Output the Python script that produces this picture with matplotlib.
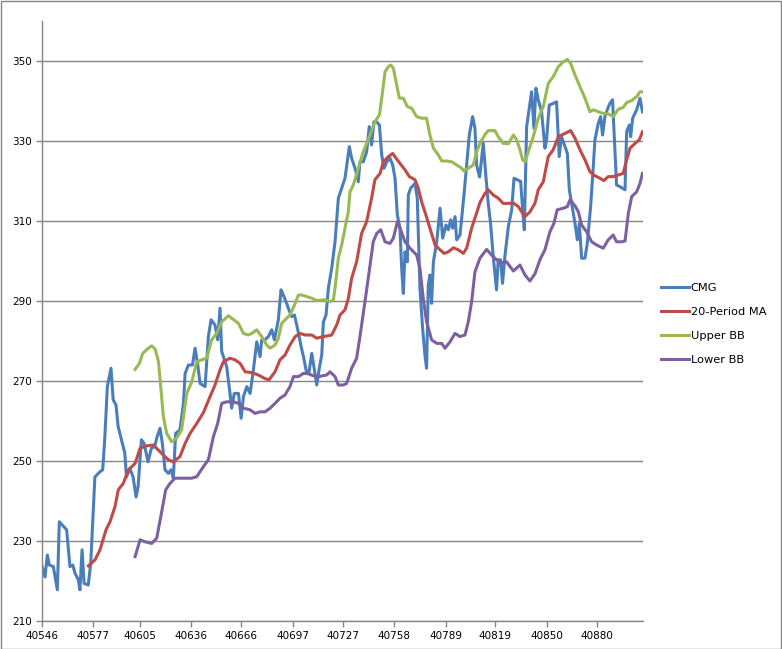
import matplotlib.pyplot as plt
from matplotlib.patches import Rectangle

# excel date serials, with prices
cmg_x = [40546, 40548, 40549.4, 40550.6, 40553, 40555.4, 40556.6, 40561, 40563, 40564.7,
         40566, 40568, 40569, 40570.3, 40571.5, 40574, 40575.5, 40578, 40581, 40582.7,
         40584, 40585.5, 40587.7, 40589, 40590.7, 40592, 40596, 40597, 40599, 40601,
         40602.8, 40604, 40606, 40607.6, 40610, 40612, 40614, 40615.2, 40617.2, 40618.6,
         40620.2, 40622.2, 40623.8, 40625.2, 40626.6, 40629.2, 40631.3, 40632.3, 40634.3, 40636.7,
         40638.3, 40639.9, 40641.3, 40644.3, 40646.3, 40647.9, 40650.3, 40651.9, 40653.3, 40654.3,
         40657.3, 40659.3, 40660.3, 40661.9, 40664.4, 40666, 40667.4, 40669.4, 40671.4, 40673.4,
         40675.4, 40677.4, 40678.4, 40680.4, 40682.4, 40684.4, 40686, 40688.4, 40690, 40691.4,
         40693.4, 40694.4, 40696.4, 40698.1, 40700.1, 40702.1, 40703.5, 40705.5, 40706.9, 40708.5,
         40710.1, 40711.5, 40712.9, 40714.5, 40715.5, 40717.1, 40718.5, 40720.5, 40722.5, 40724.5,
         40726.5, 40728.5, 40731.1, 40732.5, 40734.5, 40736.5, 40737.5, 40739.5, 40741.5, 40743.1,
         40744.5, 40745.9, 40747.5, 40749.2, 40750.6, 40752, 40753.6, 40755.6, 40757.2, 40758.6,
         40760, 40761.6, 40762.6, 40763.6, 40764.6, 40766, 40766.6, 40768, 40770.6, 40772,
         40773.6, 40775.2, 40776.6, 40777.6, 40778.6, 40779.6, 40780.6, 40781.7, 40783.7, 40785.7,
         40787.3, 40789.3, 40790.7, 40792.1, 40793.3, 40794.7, 40795.7, 40797.7, 40800.1, 40801.7,
         40803.3, 40805.3, 40806.7, 40807.7, 40809.5, 40811.7, 40813.3, 40814.7, 40816.1, 40817.7,
         40819.7, 40820.7, 40822.1, 40823.3, 40824.7, 40826.8, 40828.8, 40830.2, 40832.2, 40834.2,
         40835.4, 40836.4, 40837.8, 40839.4, 40840.8, 40842.2, 40843.4, 40844.8, 40846.8, 40848.8,
         40849.8, 40851.4, 40853.4, 40855.8, 40857.4, 40858.8, 40860.9, 40862.3, 40863.5, 40865.5,
         40866.9, 40868.3, 40869.5, 40870.9, 40872.9, 40874.3, 40876.3, 40877.9, 40878.9, 40880.9,
         40882.3, 40883.5, 40884.9, 40886.3, 40887.9, 40889.5, 40890.9, 40891.9, 40893.9, 40897,
         40898, 40899.6, 40900.4, 40901.6, 40904, 40906, 40907.5]
cmg_y = [224.0, 221.0, 226.5, 224.0, 223.6, 217.8, 234.8, 232.8, 223.6, 224.0,
         222.0, 220.3, 217.8, 227.8, 219.4, 219.0, 224.4, 246.0, 247.3, 247.8,
         256.0, 268.6, 273.2, 265.3, 264.0, 258.6, 252.0, 246.0, 248.2, 246.0,
         241.0, 243.6, 255.3, 254.4, 249.8, 253.2, 253.6, 255.7, 258.2, 254.4,
         247.8, 246.9, 247.8, 245.7, 256.9, 257.8, 264.4, 271.9, 274.0, 274.0,
         278.2, 274.0, 269.4, 268.6, 281.1, 285.3, 284.0, 280.3, 288.2, 277.4,
         273.6, 266.9, 263.2, 266.9, 266.9, 260.7, 266.1, 268.6, 266.9, 272.8,
         279.8, 276.1, 280.3, 280.3, 281.1, 282.8, 280.3, 285.3, 292.8, 291.5,
         289.4, 288.2, 286.1, 286.5, 282.8, 278.6, 276.1, 271.9, 272.3, 276.9,
         272.8, 269.0, 272.8, 276.5, 284.8, 286.5, 293.2, 298.2, 304.8, 315.7,
         318.2, 320.7, 328.6, 325.7, 323.2, 319.8, 324.8, 324.8, 327.3, 333.6,
         329.0, 334.8, 334.8, 334.0, 326.5, 323.2, 324.8, 325.7, 324.0, 320.7,
         311.5, 308.2, 298.2, 291.9, 302.3, 299.8, 316.5, 318.2, 319.4, 315.7,
         293.2, 283.2, 276.5, 273.2, 294.0, 296.5, 289.4, 299.8, 304.8, 313.2,
         305.7, 309.0, 307.8, 310.3, 308.2, 311.1, 305.3, 306.5, 316.5, 324.0,
         331.5, 336.1, 333.2, 324.0, 321.0, 329.4, 321.1, 314.4, 309.4, 301.1,
         292.8, 300.3, 300.3, 294.4, 301.1, 308.6, 312.8, 320.7, 320.3, 319.9,
         312.8, 307.8, 333.6, 338.2, 342.3, 333.2, 343.2, 340.3, 337.3, 328.2,
         330.3, 339.0, 339.3, 339.8, 326.1, 331.1, 328.6, 326.9, 317.8, 312.8,
         309.4, 305.3, 309.4, 300.7, 300.7, 304.4, 313.6, 323.6, 330.3, 334.4,
         336.1, 331.5, 336.1, 337.8, 339.4, 340.3, 327.8, 319.0, 318.6, 317.8,
         332.4, 334.0, 331.1, 335.7, 337.8, 340.7, 337.3]

ma_x = [40574.1, 40578.1, 40581.1, 40584.7, 40587.1, 40590.1, 40592.1, 40595.1, 40598.2, 40602.2,
        40605.2, 40609.2, 40613.2, 40618.2, 40622.2, 40625.2, 40629.2, 40632.3, 40635.3, 40639.3,
        40643.3, 40647.3, 40650.3, 40653.3, 40655.3, 40659.3, 40662.3, 40665.4, 40668.4, 40672.4,
        40676.4, 40680.4, 40682.8, 40686.4, 40689.4, 40692.4, 40695.4, 40698.5, 40701.5, 40704.5,
        40708.5, 40711.5, 40714.5, 40720.5, 40723.5, 40725.5, 40728.5, 40730.5, 40732.5, 40735.5,
        40738.5, 40741.5, 40744.5, 40746.5, 40749.6, 40751.6, 40754.6, 40757.2, 40759.2, 40761.6,
        40764.6, 40767.2, 40770.6, 40772.6, 40774.6, 40777.2, 40779.6, 40782.7, 40785.7, 40788.1,
        40790.7, 40793.7, 40796.7, 40799.7, 40801.7, 40804.7, 40807.3, 40809.7, 40812.7, 40814.7,
        40817.7, 40820.7, 40823.7, 40826.8, 40829.8, 40832.8, 40834.8, 40836.8, 40839.8, 40842.8,
        40844.8, 40847.8, 40850.8, 40853.8, 40856.9, 40860.9, 40864.3, 40866.9, 40869.9, 40872.9,
        40875.9, 40878.9, 40881.9, 40884.3, 40886.9, 40889.9, 40892.9, 40895.9, 40898, 40900,
        40903, 40905.6, 40907.5]
ma_y = [223.8, 225.3, 227.8, 232.8, 234.8, 238.6, 242.8, 244.4, 247.8, 249.4,
        253.2, 253.8, 254.0, 251.9, 250.3, 249.8, 251.1, 254.4, 256.9, 259.4,
        262.1, 266.1, 269.0, 272.8, 274.8, 275.7, 275.3, 274.4, 272.3, 272.1,
        271.5, 270.6, 270.3, 272.3, 275.3, 276.5, 279.0, 281.1, 281.9, 281.5,
        281.5, 280.7, 281.0, 281.5, 284.0, 286.5, 287.8, 290.6, 295.7, 299.8,
        306.9, 309.8, 315.7, 320.3, 321.9, 324.8, 326.1, 326.9, 325.7, 324.4,
        322.8, 321.1, 320.3, 318.2, 314.8, 311.5, 308.2, 304.0, 302.8, 301.9,
        302.3, 303.3, 302.8, 301.9, 303.2, 308.2, 311.5, 314.6, 316.9, 317.8,
        316.5, 315.7, 314.4, 314.4, 314.5, 313.6, 312.3, 311.1, 312.3, 314.4,
        317.8, 319.8, 326.1, 327.8, 331.1, 331.9, 332.6, 330.7, 327.8, 325.3,
        322.3, 321.3, 320.7, 320.1, 321.1, 321.1, 321.5, 321.9, 325.3, 328.2,
        329.4, 330.3, 332.3]

upper_x = [40602.2, 40604.8, 40606.8, 40610.2, 40612.2, 40614.2, 40616.2, 40617.8, 40619.2, 40621.2,
           40624.2, 40627.2, 40630.2, 40633.3, 40636.3, 40639.3, 40642.3, 40645.3, 40648.3, 40651.3,
           40654.3, 40658.3, 40661.3, 40664.4, 40667.4, 40670.4, 40672.4, 40675.4, 40678.4, 40681.4,
           40683.4, 40686.4, 40688.4, 40690.4, 40693.4, 40695.4, 40698.1, 40700.5, 40702.5, 40705.5,
           40708.5, 40711.5, 40716.5, 40719.5, 40721.5, 40722.5, 40724.5, 40726.5, 40728.5, 40730.5,
           40731.5, 40733.5, 40736.5, 40739.5, 40743.5, 40746.5, 40749.2, 40750.6, 40752.6, 40754.6,
           40756, 40757.6, 40759.6, 40761.2, 40763.6, 40766, 40768.6, 40771.6, 40774.6, 40777.6,
           40779.6, 40781.7, 40784.7, 40786.7, 40789.7, 40792.7, 40795.7, 40798.7, 40800.1, 40802.7,
           40805.7, 40807.7, 40809.7, 40812.7, 40814.7, 40818.7, 40820.7, 40823.7, 40826.8, 40829.8,
           40831.8, 40833.8, 40835.4, 40836.8, 40838.8, 40841.8, 40844.8, 40847.8, 40850.8, 40853.8,
           40856.9, 40859.9, 40862.3, 40864.3, 40866.9, 40869.9, 40872.9, 40875.9, 40877.9, 40880.9,
           40883.9, 40886.9, 40889.9, 40892.9, 40895.9, 40898, 40901, 40904, 40906, 40907.5]
upper_y = [272.9, 274.4, 276.9, 278.2, 278.8, 278.0, 275.0, 267.8, 261.1, 256.9,
           254.8, 255.7, 257.8, 266.9, 269.8, 274.8, 275.3, 275.7, 280.3, 281.9,
           284.8, 286.3, 285.4, 284.4, 281.9, 281.5, 281.9, 282.8, 281.1, 279.0,
           278.2, 279.0, 280.7, 284.4, 285.7, 286.5, 289.0, 291.5, 291.5, 291.1,
           290.7, 290.1, 290.3, 289.8, 290.3, 293.2, 300.7, 304.0, 308.2, 312.3,
           317.3, 319.0, 323.2, 327.3, 331.5, 334.8, 336.5, 340.7, 347.3, 348.6,
           349.0, 348.2, 344.0, 340.7, 340.7, 338.6, 338.2, 336.1, 335.7, 335.7,
           331.5, 328.2, 326.5, 325.0, 325.0, 324.8, 324.0, 323.2, 322.5, 323.2,
           324.0, 327.3, 329.4, 331.6, 332.6, 332.6, 331.1, 329.4, 329.3, 331.5,
           330.3, 327.8, 325.3, 324.8, 327.3, 331.1, 335.7, 338.6, 344.4, 346.1,
           348.6, 349.8, 350.4, 349.4, 346.5, 343.6, 340.7, 337.3, 337.8, 337.3,
           336.9, 336.8, 336.1, 337.9, 338.4, 339.6, 340.1, 341.1, 342.3, 342.3]

lower_x = [40602.2, 40605.2, 40608.2, 40612.2, 40615.2, 40618.2, 40620.6, 40623.2, 40626.2, 40630.2,
           40636.3, 40639.3, 40643.3, 40646.3, 40649.3, 40651.9, 40654.3, 40657.3, 40661.3, 40664.4,
           40667.4, 40671.4, 40674.4, 40677.4, 40680.4, 40683.4, 40686.4, 40689.4, 40692.4, 40695.4,
           40697.5, 40700.5, 40703.5, 40706.5, 40709.5, 40712.5, 40717.5, 40719.5, 40722.5, 40724.5,
           40727.5, 40729.5, 40732.5, 40735.5, 40737.5, 40740.5, 40742.5, 40745.5, 40747.6, 40750,
           40752.6, 40755.6, 40757.6, 40760, 40761.6, 40764.6, 40767.6, 40771.6, 40773.6, 40775.6,
           40777.6, 40780.6, 40783.7, 40786.7, 40788.7, 40791.7, 40794.7, 40797.7, 40800.7, 40802.7,
           40804.7, 40806.7, 40809.7, 40813.7, 40816.7, 40819.7, 40822.7, 40825.7, 40829.8, 40833.8,
           40836.8, 40839.8, 40842.8, 40845.8, 40848.8, 40851.8, 40854.2, 40856.2, 40859.9, 40862.3,
           40863.9, 40866.9, 40868.9, 40870.9, 40873.9, 40876.9, 40879.9, 40883.9, 40886.9, 40889.9,
           40891.9, 40894.9, 40897, 40899, 40901, 40904, 40906, 40907.5]
lower_y = [226.1, 230.3, 229.8, 229.4, 230.7, 237.3, 242.8, 244.4, 245.7, 245.7,
           245.7, 246.1, 248.6, 250.3, 256.1, 259.4, 264.4, 264.8, 264.8, 264.4,
           263.2, 262.8, 261.9, 262.3, 262.3, 263.2, 264.4, 265.7, 266.5, 268.6,
           271.1, 271.1, 271.9, 271.8, 271.3, 271.1, 271.5, 272.3, 271.1, 269.0,
           269.0, 269.4, 273.2, 275.7, 281.1, 289.8, 295.7, 304.8, 306.9, 307.8,
           304.8, 304.4, 305.7, 309.8, 308.2, 304.8, 303.2, 301.5, 298.2, 290.6,
           284.8, 280.3, 279.4, 279.4, 278.2, 279.8, 281.9, 281.1, 281.5, 284.8,
           289.8, 297.3, 300.7, 302.9, 301.5, 300.3, 299.6, 299.8, 297.5, 299.0,
           296.5, 295.0, 296.8, 300.3, 302.8, 307.3, 309.4, 312.8, 313.2, 313.6,
           315.3, 313.8, 312.3, 309.0, 307.3, 304.8, 304.0, 303.2, 305.3, 306.5,
           304.8, 304.8, 305.0, 311.9, 316.1, 317.3, 319.4, 321.9]

x_ticks = [40546, 40577, 40605, 40636, 40666, 40697, 40727, 40758, 40789, 40819, 40850, 40880]
y_ticks = [210, 230, 250, 270, 290, 310, 330, 350]

fig = plt.figure(figsize=(7.82, 6.49), dpi=100)
ax = fig.add_axes([41.7 / 782, 1 - 621 / 649, (643.3 - 41.7) / 782, 600 / 649])

lw = 2.2
ax.plot(cmg_x, cmg_y, color='#4A7EBB', lw=lw, solid_joinstyle='round', label='CMG')
ax.plot(ma_x, ma_y, color='#BE4B48', lw=lw, solid_joinstyle='round', label='20-Period MA')
ax.plot(upper_x, upper_y, color='#98B954', lw=lw, solid_joinstyle='round', label='Upper BB')
ax.plot(lower_x, lower_y, color='#7D60A0', lw=lw, solid_joinstyle='round', label='Lower BB')

ax.set_xlim(40546, 40908)
ax.set_ylim(210, 360)
ax.set_xticks(x_ticks)
ax.set_xticklabels([str(t) for t in x_ticks])
ax.set_yticks(y_ticks)

# excel look: gray axes, horizontal grid only
for s in ['top', 'right']:
    ax.spines[s].set_visible(False)
for s in ['left', 'bottom']:
    ax.spines[s].set_color('#868686')
    ax.spines[s].set_linewidth(1)
ax.yaxis.grid(True, color='#868686', linewidth=1)
ax.set_axisbelow(True)
ax.tick_params(axis='both', direction='out', length=4, width=1, color='#868686',
               labelsize=7.5, pad=3)

ax.legend(loc='center left', bbox_to_anchor=(661 / 782, 1 - 324 / 649), bbox_transform=fig.transFigure,
          frameon=False, fontsize=8.2, handlelength=2.45, handletextpad=0.15, labelspacing=1.22,
          borderaxespad=0, borderpad=0)

# chart area border
fig.patches.append(Rectangle((0.5 / 782, 0.5 / 649), 1 - 1.5 / 782, 1 - 1.5 / 649,
                             transform=fig.transFigure, fill=False, edgecolor='#868686', lw=1))

fig.savefig('out.png', dpi=100)
